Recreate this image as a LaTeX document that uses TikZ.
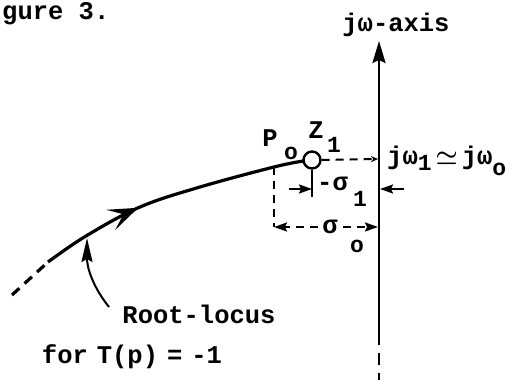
\documentclass[tikz,border=0pt]{standalone}
\usepackage{fontspec}
\usepackage{bm}
\setmainfont{Liberation Mono}
\usetikzlibrary{arrows.meta,decorations.markings}
\begin{document}
\begin{tikzpicture}[x=1pt,y=-1pt,
  txt/.style={font=\fontsize{25.5}{27}\selectfont\bfseries, inner sep=0pt},
  subtxt/.style={font=\fontsize{23}{24}\selectfont\bfseries, inner sep=0pt},
  locus/.style={line width=3.2pt},
  dimline/.style={line width=2pt},
  dashline/.style={line width=2pt, dash pattern=on 8pt off 6pt},
  dimtip/.style={-{Stealth[length=13pt,width=9pt,inset=2pt]}}
]
\useasboundingbox (0,0) rectangle (510,380);

% title fragment
\node[txt, anchor=base west] (fig) at (2,19) {gure 3.};

% j omega axis
\coordinate (ab) at (379,380);
\coordinate (am) at (379,333);
\coordinate (at) at (379,41);
\draw[line width=2.8pt, -{Stealth[length=22pt,width=13pt,inset=3pt]}] (am) -- (at);
\draw[line width=2.6pt, dash pattern=on 12pt off 8pt] (am) -- (ab);
\node[txt] (axlab) at (396,25) {jω-axis};

% zero
\node[circle, draw, line width=2.4pt, minimum size=17pt, inner sep=0pt] (z) at (312,160) {};

% root locus
\coordinate (l0) at (12,295);
\coordinate (l1) at (48,262);
\coordinate (l2) at (86,236);
\coordinate (l3) at (140,207);
\coordinate (l4) at (200,187);
\coordinate (l5) at (274,167);
\coordinate (zw) at (303.5,161);
\draw[locus, dash pattern=on 10pt off 7pt] (l0) -- (l1);
\draw[locus, postaction=decorate,
  decoration={markings, mark=at position 0.38 with {\arrow{Stealth[length=30pt,width=22pt,inset=14pt]}}}]
  plot[smooth, tension=0.6] coordinates {(l1) (l2) (l3) (l4) (l5) (zw)};

% pointer to locus
\coordinate (ptip) at (87,238);
\draw[line width=2pt, -{Stealth[length=24pt,width=11pt,inset=3pt]}] (109,307) .. controls (93,287) and (87,268) .. (ptip);
\node[txt] (rl) at (199,314) {Root-locus};
\node[txt] (tp) at (132,357) {for\hspace{9pt}T(p)\hspace{9pt}=\hspace{9pt}-1};

% P_o and Z_1 labels
\node[txt] (P) at (270,138) {P};
\node[subtxt] (Po) at (291,153) {o};
\node[txt] (Z) at (316,130) {Z};
\node[subtxt] (Z1) at (334,145) {1};

% j omega_1 line
\coordinate (jw) at (378,159);
\draw[dashline, -{Stealth[length=7pt,width=6pt]}] (z.east) -- (jw);
\node[txt, anchor=west] (jwlab) at (387,161) {jω\raisebox{-6pt}{\fontsize{23}{24}\selectfont 1}\hspace{4pt}$\bm{\simeq}$\hspace{4pt}jω\raisebox{-11pt}{\fontsize{23}{24}\selectfont o}};

% sigma_1 dimension
\coordinate (zb) at (312,197);
\draw[dimline] (z.south) -- (zb);
\coordinate (s1l) at (312,189);
\coordinate (s1r) at (380,189);
\draw[dimline, dimtip] (289,189) -- (s1l);
\draw[dimline, dimtip] (404,189) -- (s1r);
\node[txt, anchor=west] (s1) at (317,184) {-σ};
\node[subtxt] (s1sub) at (360,199) {1};

% sigma_o dimension
\coordinate (pp) at (274,167);
\coordinate (pb) at (274,227);
\draw[dashline] (pp) -- (pb);
\coordinate (sor) at (378,227);
\draw[dashline, dimtip] (318,227) -- (pb);
\draw[dashline, dimtip] (343,227) -- (sor);
\node[txt] (so) at (330,227) {σ};
\node[subtxt] (sosub) at (357,246) {o};
\end{tikzpicture}
\end{document}
